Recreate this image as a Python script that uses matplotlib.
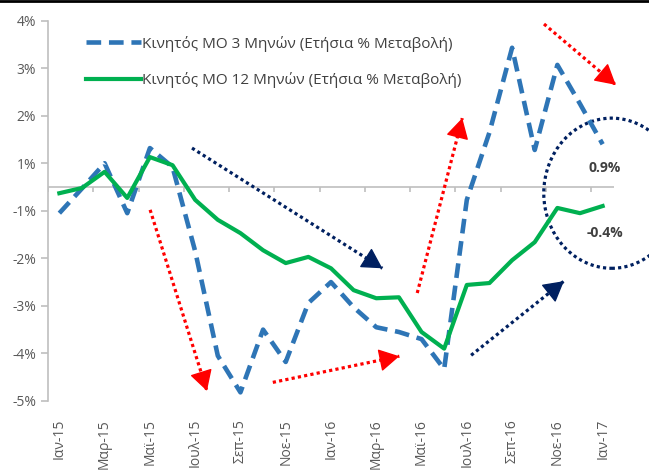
import matplotlib.pyplot as plt
import numpy as np
from matplotlib.lines import Line2D
from matplotlib.patches import Ellipse

plt.rcParams['font.family'] = ['Open Sans', 'DejaVu Sans']

# monthly data, Jan-15 .. Jan-17
months = ['Ιαν-15', 'Φεβ-15', 'Μαρ-15', 'Απρ-15', 'Μαϊ-15', 'Ιουν-15', 'Ιουλ-15', 'Αυγ-15',
          'Σεπ-15', 'Οκτ-15', 'Νοε-15', 'Δεκ-15', 'Ιαν-16', 'Φεβ-16', 'Μαρ-16', 'Απρ-16',
          'Μαϊ-16', 'Ιουν-16', 'Ιουλ-16', 'Αυγ-16', 'Σεπ-16', 'Οκτ-16', 'Νοε-16', 'Δεκ-16',
          'Ιαν-17']
ma3 = [-0.55, -0.03, 0.50, -0.55, 0.82, 0.42, -1.35, -3.55, -4.32, -3.00, -3.68, -2.44, -2.00,
       -2.53, -2.95, -3.05, -3.20, -3.83, -0.27, 1.15, 2.93, 0.78, 2.57, 1.75, 0.9]
ma12 = [-0.13, -0.02, 0.32, -0.23, 0.63, 0.46, -0.27, -0.69, -0.97, -1.33, -1.60, -1.47, -1.71,
        -2.17, -2.34, -2.32, -3.05, -3.40, -2.06, -2.02, -1.54, -1.16, -0.44, -0.55, -0.4]

label3 = 'Κινητός ΜΟ 3 Μηνών (Ετήσια % Μεταβολή)'
label12 = 'Κινητός ΜΟ 12 Μηνών (Ετήσια % Μεταβολή)'

ytick_pos = [-4.5, -3.5, -2.5, -1.5, -0.5, 0.5, 1.5, 2.5, 3.5]
ytick_labels = ['-5%', '-4%', '-3%', '-2%', '-1%', '1%', '2%', '3%', '4%']

# annotation arrows: (start, end, colour)
arrows = [
    ((5.86, 0.82), (14.27, -1.71), '#002060'),
    ((4.01, -0.48), (6.52, -4.29), '#ff0000'),
    ((9.43, -4.11), (15.02, -3.56), '#ff0000'),
    ((15.81, -2.23), (17.80, 1.45), '#ff0000'),
    ((18.19, -3.54), (22.29, -1.98), '#002060'),
    ((21.41, 3.43), (24.58, 2.15), '#ff0000'),
]

fig = plt.figure(figsize=(6.49, 4.70), dpi=100)
ax = fig.add_axes([0.074, 0.147, 0.872, 0.809])

x = np.arange(len(months))
ax.plot(x, ma3, color='#2e75b6', lw=3.3, linestyle=(0, (3.2, 1.7)), label=label3)
ax.plot(x, ma12, color='#00b050', lw=3.0, label=label12)

ax.set_xlim(-0.5, len(months) - 0.5)
ax.set_ylim(-4.5, 3.5)

# zero line with tick marks
ax.axhline(0, color='#bfbfbf', lw=1.2, zorder=1)
ax.vlines(np.arange(-0.5, len(months), 2), -0.1, 0, color='#bfbfbf', lw=1.2, zorder=1)

ax.set_yticks(ytick_pos)
ax.set_yticklabels(ytick_labels)
ax.set_xticks(x[::2])
ax.set_xticklabels(months[::2], rotation=90, va='top')
ax.tick_params(axis='y', colors='#bfbfbf', labelcolor='#595959', labelsize=10, length=5, width=1.2)
ax.tick_params(axis='x', length=0, labelcolor='#595959', labelsize=10, pad=13)
for s in ['top', 'right', 'bottom']:
    ax.spines[s].set_visible(False)
ax.spines['left'].set_color('#bfbfbf')
ax.spines['left'].set_linewidth(1.2)

# end labels
ax.text(x[-1] + 0.1, ma3[-1] - 0.5, f'{ma3[-1]:.1f}%', ha='center', va='center',
        fontsize=10, fontweight='bold', color='#404040')
ax.text(x[-1] + 0.1, ma12[-1] - 0.57, f'{ma12[-1]:.1f}%', ha='center', va='center',
        fontsize=10, fontweight='bold', color='#404040')

# dotted arrows
for (x0, y0), (x1, y1), c in arrows:
    ax.plot([x0, x1], [y0, y1], color=c, lw=2.3, linestyle=(0, (1, 1)), clip_on=False)
    ax.annotate('', xy=(x1, y1), xytext=(x1 - (x1 - x0) * 0.02, y1 - (y1 - y0) * 0.02),
                arrowprops=dict(arrowstyle='-|>,head_length=0.8,head_width=0.45',
                                color=c, lw=1, mutation_scale=16, shrinkA=0, shrinkB=0),
                annotation_clip=False)

ax.add_patch(Ellipse((24.4, -0.13), 6.0, 3.16, fill=False, edgecolor='#002060',
                     lw=2.3, linestyle=(0, (1, 1)), clip_on=False))

leg = ax.legend(loc='upper left', bbox_to_anchor=(0.12, 0.94), bbox_transform=fig.transFigure,
                frameon=False, fontsize=11, handlelength=3.6, labelspacing=1.35,
                handletextpad=0.1, labelcolor='#404040', borderpad=0)

fig.add_artist(Line2D([0, 1], [0.997, 0.997], color='black', lw=2))

fig.savefig('out.png', dpi=100)
